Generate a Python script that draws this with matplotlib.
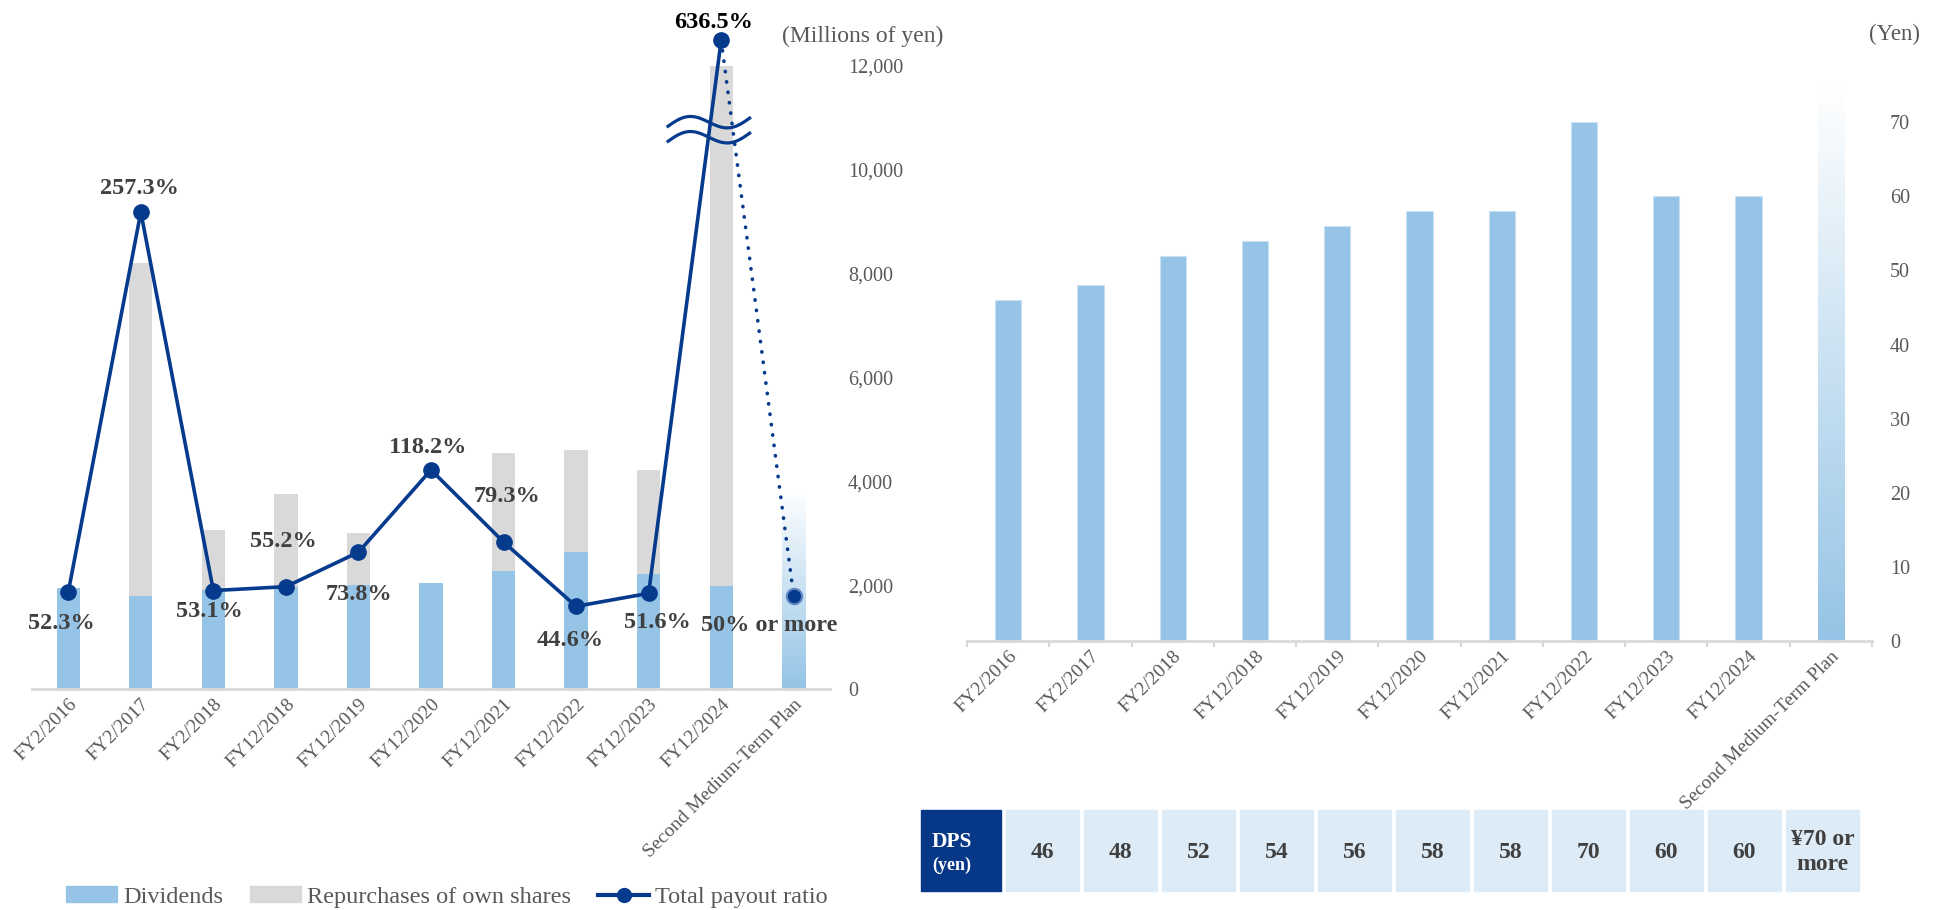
import numpy as np
import matplotlib
matplotlib.use("Agg")
import matplotlib.pyplot as plt
from matplotlib.patches import Rectangle, Patch
from matplotlib.lines import Line2D
from matplotlib.ticker import FuncFormatter

# ---------------- data ----------------
categories = ["FY2/2016", "FY2/2017", "FY2/2018", "FY12/2018", "FY12/2019",
              "FY12/2020", "FY12/2021", "FY12/2022", "FY12/2023", "FY12/2024",
              "Second Medium-Term Plan"]
dividends = [1950, 1800, 1910, 1960, 2000, 2040, 2280, 2630, 2210, 1980]       # millions of yen
repurchases = [0, 6400, 1160, 1790, 1000, 0, 2270, 1970, 2010, 10020]         # millions of yen
plan_return_bar = 3870                                                         # gradient bar (plan)
payout_ratio = [52.3, 257.3, 53.1, 55.2, 73.8, 118.2, 79.3, 44.6, 51.6, 636.5]  # %
plan_payout = 50.0
plan_payout_label = "50% or more"
payout_break_cap = 350        # value at which the broken (636.5%) point is drawn

dps = [46, 48, 52, 54, 56, 58, 58, 70, 60, 60]   # yen
plan_dps_bar = 75
plan_dps_label = "¥70 or\nmore"

left_ticks = [0, 2000, 4000, 6000, 8000, 10000, 12000]
right_ticks = [0, 10, 20, 30, 40, 50, 60, 70]

# ---------------- style ----------------
plt.rcParams["font.family"] = ["Liberation Serif", "DejaVu Serif"]
BLUE = "#95C4E6"
GREY = "#D9D9D9"
NAVY = "#063A8C"
TXT = "#404040"
TICK = "#595959"
W, H = 1940, 910

fig = plt.figure(figsize=(W / 100, H / 100), dpi=100)


def fbox(x0, y0, x1, y1):
    """pixel box (top-left origin) -> figure fraction rect"""
    return [x0 / W, 1 - y1 / H, (x1 - x0) / W, (y1 - y0) / H]


def gradient_bar(ax, x, width, top, color, z=2):
    rgb = np.array(matplotlib.colors.to_rgb(color))
    n = 256
    t = np.linspace(0, 1, n)[:, None]  # 0 bottom -> 1 top
    cols = rgb[None, :] * (1 - t) + np.ones(3)[None, :] * t
    img = cols[:, None, :]
    ax.imshow(img, extent=[x - width / 2, x + width / 2, 0, top], origin="lower",
              aspect="auto", zorder=z, interpolation="bilinear")


def rotate_labels(ax):
    for lab in ax.get_xticklabels():
        lab.set_rotation(45)
        lab.set_ha("right")
        lab.set_va("top")
        lab.set_rotation_mode("anchor")


n_act = len(dividends)
idx = np.arange(len(categories))
act = np.arange(n_act)
bw = 0.32

# ================= left chart =================
axL = fig.add_axes(fbox(32, 14, 830, 689))
axR = axL.twinx()
axL.bar(act, dividends, bw, color=BLUE, zorder=2)
axL.bar(act, repurchases, bw, bottom=dividends, color=GREY, zorder=2)
gradient_bar(axL, idx[-1], bw, plan_return_bar, BLUE)
axL.set_xlim(-0.5, len(categories) - 0.5)
axL.set_ylim(0, 13000)
for s in ["left", "right", "top"]:
    axL.spines[s].set_visible(False)
axL.spines["bottom"].set_color(GREY)
axL.spines["bottom"].set_linewidth(2)
axL.yaxis.tick_right()
axL.set_yticks(left_ticks)
axL.yaxis.set_major_formatter(FuncFormatter(lambda v, p: f"{int(v):,}"))
axL.tick_params(axis="y", length=0, pad=13, labelsize=14.5, labelcolor=TICK)
axL.set_xticks(idx)
axL.set_xticklabels(categories)
axL.tick_params(axis="x", length=0, pad=5, labelsize=14, labelcolor=TICK)
rotate_labels(axL)
fig.text(863 / W, 1 - 36 / H, "(Millions of yen)", ha="center", va="center",
         fontsize=17, color=TICK)

# payout ratio line on twin axis
axR.set_ylim(0, 13000 / 35.7)
axR.axis("off")
plot_vals = [min(v, payout_break_cap) for v in payout_ratio]
axR.plot(act, plot_vals, color=NAVY, lw=2.6, marker="o", ms=11, zorder=5)
axR.plot([act[-1], idx[-1]], [plot_vals[-1], plan_payout], color=NAVY, lw=2.6,
         linestyle=(0, (0.1, 2.8)), dash_capstyle="round", zorder=4)
axR.plot([idx[-1]], [plan_payout], marker="o", ms=11, color=NAVY,
         markeredgecolor="#5F86C4", markeredgewidth=1.5, zorder=5)

offsets = [(-7, -31), (-1, 24), (-4, -21), (-3, 45), (0, -42), (-3, 22),
           (3, 46), (-6, -34), (9, -29), (-8, 18)]
for i, (v, pv) in enumerate(zip(payout_ratio, plot_vals)):
    axR.annotate(f"{v}%", (act[i], pv), xytext=offsets[i], textcoords="offset pixels",
                 ha="center", va="center", fontsize=17.5, fontweight="bold",
                 color="black" if v > payout_break_cap else TXT, zorder=6)
axR.annotate(plan_payout_label, (idx[-1], plan_payout), xytext=(-25, -29),
             textcoords="offset pixels", ha="center", va="center", fontsize=17.5,
             fontweight="bold", color=TXT, zorder=6)

# break marks (wavy lines) on the FY12/2024 column
t = np.linspace(0, 1, 120)
bx = act[-1] - 0.75 + 1.16 * t
for base in (10820, 10530):
    by = base + 193 * t + 155 * np.sin(2 * np.pi * t)
    axR.plot(bx, by, color=NAVY, lw=2.3, transform=axL.transData, zorder=7,
             solid_capstyle="butt")

# ================= right chart =================
axD = fig.add_axes(fbox(967, 48, 1872, 641))
axD.bar(act, dps, bw, color=BLUE, edgecolor="#C9E1F2", linewidth=0.8, zorder=2)
gradient_bar(axD, idx[-1], bw, plan_dps_bar, BLUE)
axD.set_xlim(-0.5, len(categories) - 0.5)
axD.set_ylim(0, 80)
for s in ["left", "right", "top"]:
    axD.spines[s].set_visible(False)
axD.spines["bottom"].set_color(GREY)
axD.spines["bottom"].set_linewidth(2)
axD.yaxis.tick_right()
axD.set_yticks(right_ticks)
axD.tick_params(axis="y", length=0, pad=13, labelsize=14.5, labelcolor=TICK)
axD.set_xticks(idx)
axD.set_xticklabels(categories)
axD.set_xticks(np.arange(-0.5, len(categories)), minor=True)
axD.tick_params(axis="x", which="major", length=0, pad=5, labelsize=14, labelcolor=TICK)
axD.tick_params(axis="x", which="minor", length=4, width=1.5, color=GREY, direction="out")
rotate_labels(axD)
fig.text(1895 / W, 1 - 34 / H, "(Yen)", ha="center", va="center", fontsize=16.5, color=TICK)

# ================= DPS table =================
y0, y1 = 810, 891
fig.patches.append(Rectangle((921 / W, 1 - y1 / H), 80 / W, (y1 - y0) / H,
                             transform=fig.transFigure, color="#073787", zorder=1))
fig.text(932 / W, 1 - 842 / H, "DPS", ha="left", va="center", fontsize=15.5,
         fontweight="bold", color="white")
fig.text(932 / W, 1 - 865 / H, "(yen)", ha="left", va="center", fontsize=13,
         fontweight="bold", color="white")
table_labels = [str(v) for v in dps] + [plan_dps_label]
for k, lab in enumerate(table_labels):
    cx0 = 1006 + 78 * k
    fig.patches.append(Rectangle((cx0 / W, 1 - y1 / H), 73 / W, (y1 - y0) / H,
                                 transform=fig.transFigure, color="#DDEBF7", zorder=1))
    fig.text((cx0 + 36.5) / W, 1 - 852 / H, lab, ha="center", va="center",
             fontsize=17, fontweight="bold", color=TXT, linespacing=1.2)

# ================= legend =================
handles = [Patch(color=BLUE), Patch(color=GREY),
           Line2D([0], [0], color=NAVY, lw=3, marker="o", ms=10)]
labels = ["Dividends", "Repurchases of own shares", "Total payout ratio"]
leg = fig.legend(handles, labels, loc="center", bbox_to_anchor=(447 / W, 1 - 897 / H),
                 ncol=3, frameon=False, fontsize=17.5, handlelength=2.1, handleheight=0.6,
                 handletextpad=0.25, columnspacing=1.1, labelcolor=TICK)

fig.savefig("out.png", dpi=100)
